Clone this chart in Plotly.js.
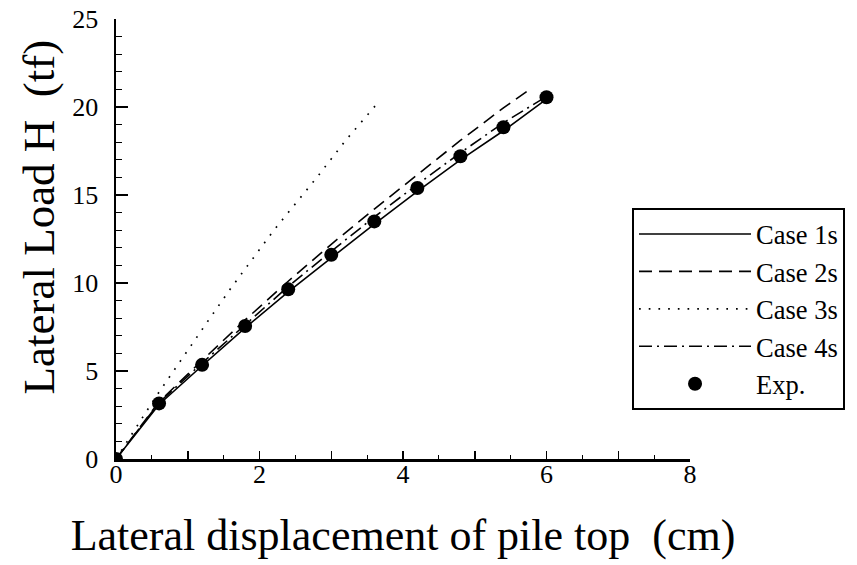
<!DOCTYPE html>
<html>
<head>
<meta charset="utf-8">
<script src="https://cdn.plot.ly/plotly-3.0.1.min.js"></script>
<style>html,body{margin:0;padding:0;background:#fff;}</style>
</head>
<body>
<div id="chart" style="width:857px;height:565px;"></div>
<script>
// Lateral displacement of pile top (cm) / Lateral load H (tf)
const xCase1 = [0, 0.6, 1.2, 1.8, 2.4, 3.0, 3.6, 4.2, 4.8, 5.4, 6.0];
const yCase1 = [0, 3.1, 5.3, 7.45, 9.5, 11.45, 13.35, 15.2, 17.0, 18.65, 20.45];

const xCase2 = [0, 0.6, 1.2, 1.8, 2.4, 3.0, 3.6, 4.2, 4.8, 5.4, 5.75];
const yCase2 = [0, 3.25, 5.6, 7.9, 10.1, 12.2, 14.2, 16.15, 18.1, 19.95, 20.95];

const xCase3 = [0, 0.2, 0.4, 0.6, 0.8, 1.0, 1.3, 1.6, 2.2, 2.8, 3.2, 3.62];
const yCase3 = [0, 1.3, 2.55, 3.8, 5.0, 6.2, 7.95, 9.7, 13.0, 16.0, 18.1, 20.1];

const xCase4 = [0, 0.6, 1.2, 1.8, 2.4, 3.0, 3.6, 4.2, 4.8, 5.4, 6.0];
const yCase4 = [0, 3.2, 5.45, 7.65, 9.8, 11.8, 13.75, 15.6, 17.4, 19.1, 20.6];

const xExp = [0, 0.6, 1.2, 1.8, 2.4, 3.0, 3.6, 4.2, 4.8, 5.4, 6.0];
const yExp = [0, 3.16, 5.35, 7.56, 9.64, 11.6, 13.5, 15.4, 17.2, 18.85, 20.55];

const seriesNames = ['Case 1s', 'Case 2s', 'Case 3s', 'Case 4s', 'Exp.'];
const xTickVals = [0, 1, 2, 3, 4, 5, 6, 7, 8];
const xTickText = ['0', '', '2', '', '4', '', '6', '', '8'];
const yTickVals = [0, 5, 10, 15, 20, 25];
const xTitle = 'Lateral displacement of pile top\u00a0\u00a0(cm)\u00a0';
const yTitle = 'Lateral Load H\u00a0\u00a0(tf)';

const serif = 'Liberation Serif, Times New Roman, serif';

const traces = [
  {x: xCase1, y: yCase1, name: seriesNames[0], mode: 'lines',
   line: {color: '#000', width: 1.6, dash: 'solid'}},
  {x: xCase2, y: yCase2, name: seriesNames[1], mode: 'lines',
   line: {color: '#000', width: 1.6, dash: '13px,7px'}},
  {x: xCase3, y: yCase3, name: seriesNames[2], mode: 'lines',
   line: {color: '#000', width: 1.7, dash: '1.7px,8px'}},
  {x: xCase4, y: yCase4, name: seriesNames[3], mode: 'lines',
   line: {color: '#000', width: 1.6, dash: '13px,5px,2px,5px'}},
  {x: xExp, y: yExp, name: seriesNames[4], mode: 'markers',
   marker: {color: '#000', size: 14, symbol: 'circle'}}
];

const layout = {
  width: 857, height: 565,
  margin: {l: 116, r: 165, t: 19, b: 106, pad: 0},
  paper_bgcolor: '#fff', plot_bgcolor: '#fff',
  font: {family: serif, color: '#000', size: 26},
  showlegend: true,
  legend: {
    x: 0.899, y: 0.57, xanchor: 'left', yanchor: 'top',
    bgcolor: '#fff', bordercolor: '#000', borderwidth: 2,
    font: {family: serif, size: 26.5, color: '#000'},
    itemwidth: 112, tracegroupgap: 0
  },
  xaxis: {
    range: [0, 8], showgrid: false, zeroline: false,
    showline: true, linecolor: '#000', linewidth: 2.5,
    ticks: 'inside', ticklen: 8, tickwidth: 1.5, tickcolor: '#000',
    tickmode: 'array', tickvals: xTickVals, ticktext: xTickText,
    minor: {dtick: 0.5, ticks: 'inside', ticklen: 4, tickwidth: 1.2, tickcolor: '#000', showgrid: false},
    tickfont: {family: serif, size: 26, color: '#000'},
    ticklabelstandoff: -10,
    title: {text: xTitle, font: {family: serif, size: 44, color: '#000'}, standoff: 32},
    automargin: false
  },
  yaxis: {
    range: [0, 25], showgrid: false, zeroline: false,
    showline: true, linecolor: '#000', linewidth: 2.5,
    ticks: 'inside', ticklen: 12, tickwidth: 1.5, tickcolor: '#000',
    tickmode: 'array', tickvals: yTickVals,
    minor: {dtick: 1, ticks: 'inside', ticklen: 6, tickwidth: 1.2, tickcolor: '#000', showgrid: false},
    tickfont: {family: serif, size: 26, color: '#000'},
    ticklabelstandoff: 10,
    title: {text: ''},
    automargin: false
  },
  annotations: [{
    text: yTitle, xref: 'paper', yref: 'paper', x: -0.135, y: 0.55,
    xanchor: 'center', yanchor: 'middle', textangle: -90, showarrow: false,
    font: {family: serif, size: 45, color: '#000'}
  }]
};

Plotly.newPlot('chart', traces, layout, {displayModeBar: false, staticPlot: true});
</script>
</body>
</html>
